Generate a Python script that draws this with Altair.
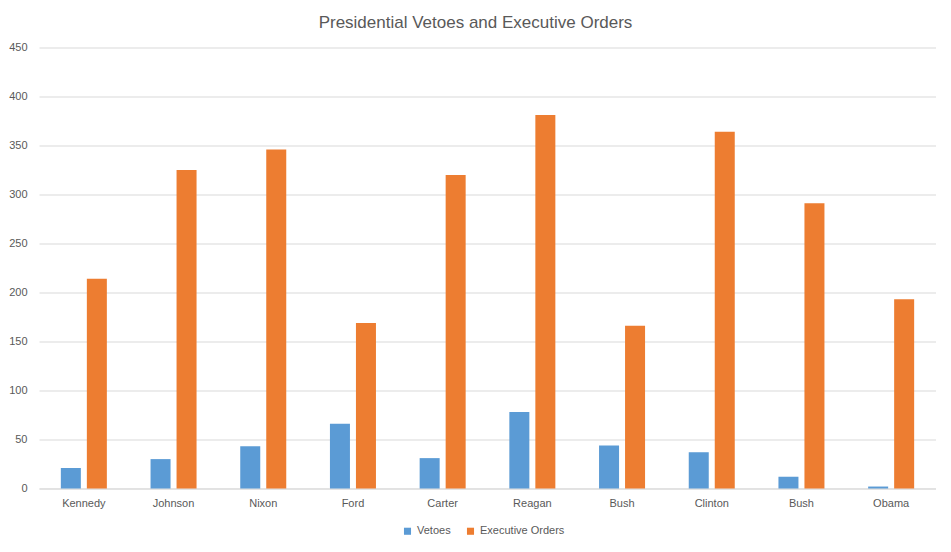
import altair as alt
import pandas as pd

presidents = ["Kennedy", "Johnson", "Nixon", "Ford", "Carter", "Reagan", "Bush", "Clinton", "Bush", "Obama"]
vetoes = [21, 30, 43, 66, 31, 78, 44, 37, 12, 2]
orders = [214, 325, 346, 169, 320, 381, 166, 364, 291, 193]
series = ["Vetoes", "Executive Orders"]
colors = ["#5B9BD5", "#ED7D31"]

rows = []
for i, name in enumerate(presidents):
    rows.append({"key": str(i), "president": name, "series": series[0], "value": vetoes[i]})
    rows.append({"key": str(i), "president": name, "series": series[1], "value": orders[i]})
df = pd.DataFrame(rows)

label_expr = "[" + ",".join("'" + p + "'" for p in presidents) + "][toNumber(datum.value)]"
FONT = "Liberation Sans"

chart = alt.Chart(df).mark_bar().encode(
    x=alt.X("key:N", sort=[str(i) for i in range(len(presidents))],
            scale=alt.Scale(paddingInner=0, paddingOuter=0),
            axis=alt.Axis(title=None, labelExpr=label_expr, labelAngle=0, ticks=False,
                          domain=True, domainColor="#d9d9d9", labelPadding=9,
                          labelColor="#595959", labelFontSize=11, labelFont=FONT)),
    xOffset=alt.XOffset("series:N", sort=series,
                        scale=alt.Scale(paddingInner=0.2308, paddingOuter=0.84)),
    y=alt.Y("value:Q", scale=alt.Scale(domain=[0, 450]),
            axis=alt.Axis(title=None, values=list(range(0, 451, 50)), domain=False, ticks=False,
                          labelPadding=12, gridColor="#d9d9d9", labelColor="#595959",
                          labelFontSize=11, labelFont=FONT)),
    color=alt.Color("series:N", sort=series,
                    scale=alt.Scale(domain=series, range=colors),
                    legend=alt.Legend(title=None, orient="none", direction="horizontal",
                                      legendX=363, legendY=478, symbolType="square",
                                      symbolSize=50, symbolStrokeWidth=0, labelFontSize=11,
                                      labelFont=FONT, labelColor="#595959", columnPadding=14,
                                      padding=0, labelOffset=4)),
).properties(
    width=897, height=441,
    padding={"left": 31, "top": 39.5, "right": 0, "bottom": 52},
    autosize=alt.AutoSizeParams(type="none"),
    title=alt.TitleParams("Presidential Vetoes and Executive Orders", font=FONT, fontSize=17,
                          fontWeight="normal", color="#595959", anchor="middle", dx=-12, offset=10),
).configure(background="white").configure_view(stroke=None)

chart.save("out.html", embed_options={"renderer": "svg", "actions": False})
